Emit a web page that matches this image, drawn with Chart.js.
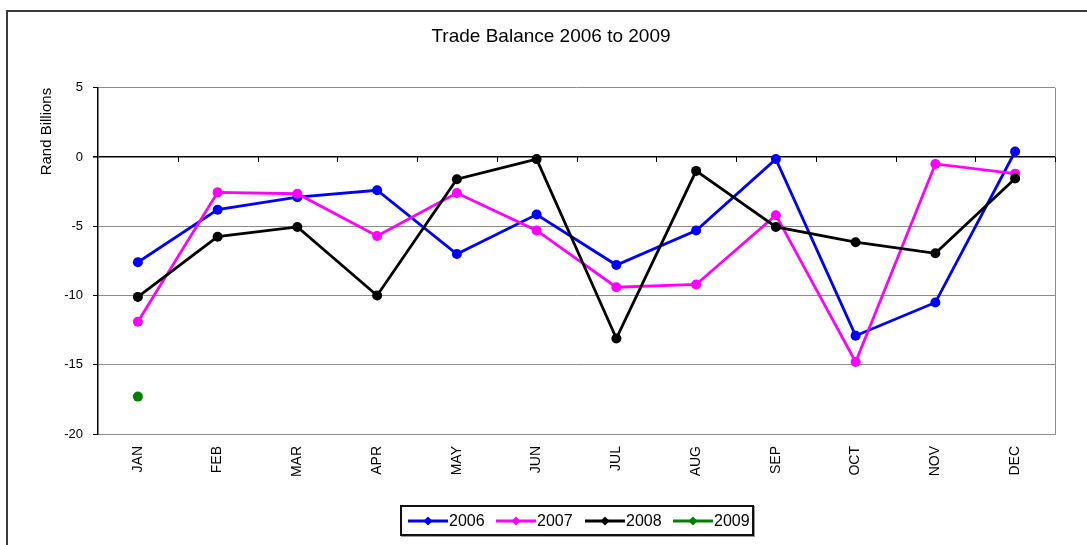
<!DOCTYPE html>
<html><head><meta charset="utf-8">
<script src="https://cdn.jsdelivr.net/npm/chart.js@4"></script>
<style>
html,body{margin:0;padding:0;background:#fff;}
#wrap{position:relative;width:1087px;height:545px;overflow:hidden;}
#legend{position:absolute;left:400px;top:505px;width:354px;height:31px;box-sizing:border-box;border:2px solid #111;box-shadow:1px 1px 0 #999;font-family:'Liberation Sans',Arial,sans-serif;font-size:16px;color:#000;background:#fff;}
.item{position:absolute;top:0;height:27px;display:flex;align-items:center;}
.item svg{display:block;margin-right:1px;}
</style>
</head><body>
<div id="wrap">
<canvas id="c" width="1087" height="545"></canvas>
<div id="legend"></div>
</div>
<script>
const TITLE = 'Trade Balance 2006 to 2009';
const Y_TITLE = 'Rand Billions';
const categories = ['JAN','FEB','MAR','APR','MAY','JUN','JUL','AUG','SEP','OCT','NOV','DEC'];
const seriesNames = ['2006','2007','2008','2009'];
const values2006 = [-7.6,-3.8,-2.9,-2.4,-7.0,-4.15,-7.8,-5.3,-0.15,-12.9,-10.5,0.4];
const values2007 = [-11.9,-2.55,-2.65,-5.7,-2.6,-5.3,-9.4,-9.2,-4.2,-14.8,-0.5,-1.2];
const values2008 = [-10.1,-5.75,-5.05,-10.0,-1.6,-0.15,-13.1,-1.0,-5.05,-6.15,-6.95,-1.55];
const values2009 = [-17.3,null,null,null,null,null,null,null,null,null,null,null];
const seriesColors = ['#0000ff','#ff00ff','#000000','#008000'];
const yMin = -20, yMax = 5, yStep = 5;

const allValues = [values2006, values2007, values2008, values2009];

const framePlugin = {
  id: 'frame',
  beforeDraw(chart) {
    const ctx = chart.ctx;
    ctx.save();
    ctx.strokeStyle = '#3a3a3a';
    ctx.lineWidth = 2;
    ctx.strokeRect(7, 11, 1200, 600);
    ctx.restore();
  },
  beforeDatasetsDraw(chart) {
    const ctx = chart.ctx;
    const x = chart.scales.x, y = chart.scales.y;
    const a = chart.chartArea;
    ctx.save();
    ctx.strokeStyle = '#8c8c8c';
    ctx.lineWidth = 1;
    ctx.beginPath();
    ctx.moveTo(Math.round(a.right) + 0.5, a.top);
    ctx.lineTo(Math.round(a.right) + 0.5, a.bottom);
    ctx.stroke();
    const y0 = y.getPixelForValue(0);
    ctx.strokeStyle = '#000';
    ctx.lineWidth = 1;
    ctx.beginPath();
    for (let i = 1; i <= categories.length; i++) {
      const px = Math.round(x.getPixelForValue(i - 0.5)) + 0.5;
      ctx.moveTo(px, y0);
      ctx.lineTo(px, y0 + 5);
    }
    ctx.stroke();
    ctx.restore();
  }
};

const datasets = allValues.map((vals, i) => ({
  label: seriesNames[i],
  data: vals,
  borderColor: seriesColors[i],
  backgroundColor: seriesColors[i],
  borderWidth: 2.8,
  pointRadius: 5,
  pointHoverRadius: 5,
  pointBorderWidth: 0,
  pointStyle: 'circle',
  tension: 0,
  order: allValues.length - i,
  spanGaps: false
}));

new Chart(document.getElementById('c'), {
  type: 'line',
  data: { labels: categories, datasets },
  plugins: [framePlugin],
  options: {
    responsive: false,
    animation: false,
    layout: { padding: { left: 15, right: 0, top: 0, bottom: 0 } },
    plugins: {
      legend: { display: false },
      tooltip: { enabled: false },
      title: {
        display: true,
        text: TITLE,
        color: '#000',
        font: { family: "'Liberation Sans', Arial, sans-serif", size: 19, weight: 'normal' },
        padding: { top: 25, bottom: 40 }
      }
    },
    scales: {
      x: {
        type: 'category',
        offset: true,
        grid: { display: false, drawTicks: false },
        border: { display: true, color: '#8c8c8c', width: 1 },
        ticks: {
          color: '#000',
          font: { family: "'Liberation Sans', Arial, sans-serif", size: 14 },
          maxRotation: 90, minRotation: 90,
          padding: 12,
          autoSkip: false
        },
        afterFit(s) { s.height = 111; }
      },
      y: {
        type: 'linear',
        position: 'left',
        min: yMin, max: yMax,
        ticks: {
          stepSize: yStep,
          color: '#000',
          padding: 10,
          font: { family: "'Liberation Sans', Arial, sans-serif", size: 13 }
        },
        grid: {
          color: c => (c.tick && c.tick.value === 0) ? '#000' : '#8c8c8c',
          lineWidth: c => (c.tick && c.tick.value === 0) ? 1.6 : 1,
          tickColor: '#000',
          tickLength: 5
        },
        border: { color: '#000', width: 1.5 },
        title: {
          display: true,
          text: Y_TITLE,
          align: 'end',
          color: '#000',
          font: { family: "'Liberation Sans', Arial, sans-serif", size: 15 },
          padding: { top: 23, bottom: 0 }
        },
        afterFit(s) { s.width = 83; }
      },
      yRight: {
        type: 'linear',
        position: 'right',
        display: true,
        grid: { display: false, drawTicks: false },
        border: { display: false },
        ticks: { display: false },
        afterFit(s) { s.width = 32; }
      }
    }
  }
});

// HTML legend built from the series
const legend = document.getElementById('legend');
const itemLefts = [6, 94, 183, 271];
seriesNames.forEach((name, i) => {
  const it = document.createElement('div');
  it.className = 'item';
  it.style.left = itemLefts[i] + 'px';
  const c = seriesColors[i];
  it.innerHTML = '<svg width="40" height="12" viewBox="0 0 40 12"><line x1="0" y1="6" x2="40" y2="6" stroke="' + c + '" stroke-width="3"/><polygon points="20,1.5 24.5,6 20,10.5 15.5,6" fill="' + c + '"/></svg><span>' + name + '</span>';
  legend.appendChild(it);
});
</script>
</body></html>
